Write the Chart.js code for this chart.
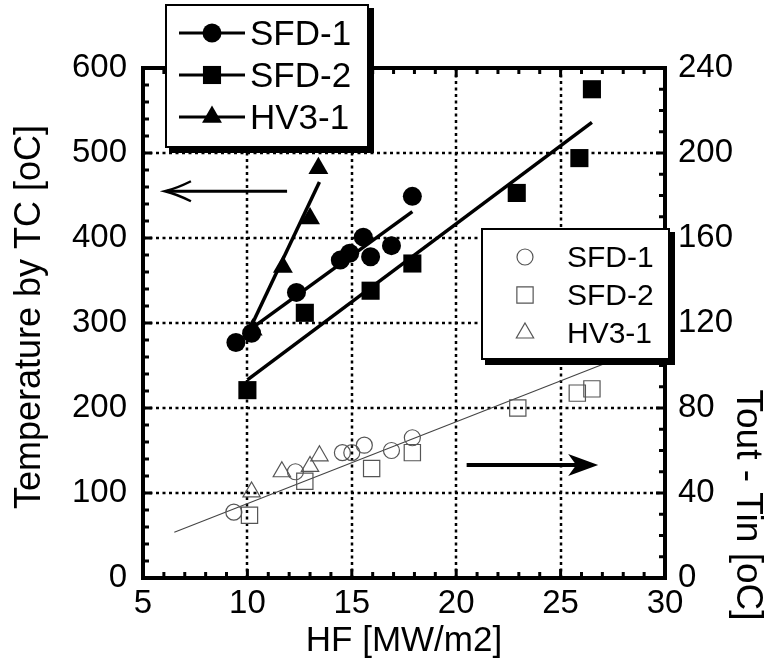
<!DOCTYPE html>
<html>
<head>
<meta charset="utf-8">
<script src="https://cdn.jsdelivr.net/npm/chart.js@4/dist/chart.umd.min.js"></script>
<style>
  html, body { margin: 0; padding: 0; background: #ffffff; }
  #wrap { width: 765px; height: 663px; }
</style>
</head>
<body>
<div id="wrap"><canvas id="c" width="765" height="663"></canvas></div>
<script>
// ---------- DATA ----------
// Left axis: Temperature by TC [oC]  (filled markers)
const hfSFD1 = [9.45, 10.2, 12.35, 14.45, 14.9, 15.55, 15.9, 16.9, 17.9];
const tcSFD1 = [277, 288, 336, 374, 382, 401, 378, 391, 449];
const hfSFD2 = [10.0, 12.75, 15.9, 17.9, 22.9, 25.9, 26.5];
const tcSFD2 = [221, 312, 338, 370, 453, 494, 575];
const hfHV31 = [10.25, 11.7, 13.0, 13.4];
const tcHV31 = [292, 366, 423, 482];

// Fitted lines (left axis): start / end points
const fitSFD1HF = [10.1, 17.9];
const fitSFD1TC = [292, 431];
const fitSFD2HF = [10.0, 26.5];
const fitSFD2TC = [233, 536];
const fitHV31HF = [10.1, 13.45];
const fitHV31TC = [292, 466];

// Right axis: Tout - Tin [oC]  (open markers)
const hfSFD1o = [9.35, 12.3, 14.55, 15.0, 15.6, 16.9, 17.9];
const dtSFD1o = [31, 50, 59, 59, 62.5, 60, 66];
const hfSFD2o = [10.1, 12.75, 15.95, 17.9, 22.95, 25.8, 26.5];
const dtSFD2o = [29.5, 45.5, 51.5, 59, 80, 87, 89];
const hfHV31o = [10.2, 11.65, 13.0, 13.45];
const dtHV31o = [40.5, 50, 52.5, 57.5];

// Fitted line (right axis)
const fitAllHF = [6.5, 27.0];
const fitAllDT = [21.5, 100.5];

// Tick labels
const xTicks = [5, 10, 15, 20, 25, 30];
const leftTicks = [0, 100, 200, 300, 400, 500, 600];
const rightTicks = [0, 40, 80, 120, 160, 200, 240];

// Legend labels
const seriesNames = ['SFD-1', 'SFD-2', 'HV3-1'];

// Axis titles
const xTitle = 'HF [MW/m2]';
const yTitle = 'Temperature by TC [oC]';
const y2Title = 'Tout - Tin [oC]';

// Direction arrows (data units)
const leftArrowHF = [11.9, 6.05];   // from -> to (points left)
const leftArrowTC = 455;
const rightArrowHF = [20.5, 26.8];  // from -> to (points right)
const rightArrowDT = 53.2;

// ---------- helpers ----------
const pts = (xs, ys) => xs.map((x, i) => ({ x: x, y: ys[i] }));
const FONT = '"Liberation Sans", Arial, Helvetica, sans-serif';

const filledStyles = ['circle', 'rect', 'triangle'];
const filledRadius = [9.5, 12.8, 11.5];
const openRadius = [8, 11.5, 10];

const datasets = [
  { label: 'SFD-1', data: pts(hfSFD1, tcSFD1), yAxisID: 'y', pointStyle: 'circle', pointRadius: filledRadius[0],
    backgroundColor: '#000', borderColor: '#000', borderWidth: 0, showLine: false },
  { label: 'SFD-2', data: pts(hfSFD2, tcSFD2), yAxisID: 'y', pointStyle: 'rect', pointRadius: filledRadius[1],
    backgroundColor: '#000', borderColor: '#000', borderWidth: 0, showLine: false },
  { label: 'HV3-1', data: pts(hfHV31, tcHV31), yAxisID: 'y', pointStyle: 'triangle', pointRadius: filledRadius[2],
    backgroundColor: '#000', borderColor: '#000', borderWidth: 0, showLine: false },
  { label: 'fit SFD-1', data: pts(fitSFD1HF, fitSFD1TC), yAxisID: 'y', showLine: true, pointRadius: 0,
    borderColor: '#000', borderWidth: 3.5 },
  { label: 'fit SFD-2', data: pts(fitSFD2HF, fitSFD2TC), yAxisID: 'y', showLine: true, pointRadius: 0,
    borderColor: '#000', borderWidth: 3.5 },
  { label: 'fit HV3-1', data: pts(fitHV31HF, fitHV31TC), yAxisID: 'y', showLine: true, pointRadius: 0,
    borderColor: '#000', borderWidth: 3.5 },
  { label: 'SFD-1 dT', data: pts(hfSFD1o, dtSFD1o), yAxisID: 'y2', pointStyle: 'circle', pointRadius: openRadius[0],
    backgroundColor: 'rgba(0,0,0,0)', borderColor: '#555', borderWidth: 1.2, showLine: false },
  { label: 'SFD-2 dT', data: pts(hfSFD2o, dtSFD2o), yAxisID: 'y2', pointStyle: 'rect', pointRadius: openRadius[1],
    backgroundColor: 'rgba(0,0,0,0)', borderColor: '#555', borderWidth: 1.2, showLine: false },
  { label: 'HV3-1 dT', data: pts(hfHV31o, dtHV31o), yAxisID: 'y2', pointStyle: 'triangle', pointRadius: openRadius[2],
    backgroundColor: 'rgba(0,0,0,0)', borderColor: '#555', borderWidth: 1.2, showLine: false },
  { label: 'fit dT', data: pts(fitAllHF, fitAllDT), yAxisID: 'y2', showLine: true, pointRadius: 0,
    borderColor: '#444', borderWidth: 1.1 }
];

// ---------- decoration plugin ----------
const deco = {
  id: 'deco',
  beforeDatasetsDraw(chart) {
    const { ctx, chartArea: a, scales } = chart;
    ctx.save();
    ctx.strokeStyle = '#000';
    ctx.lineWidth = 2.5;
    ctx.setLineDash([3, 3.5]);
    xTicks.slice(1, -1).forEach(v => {
      const px = Math.round(scales.x.getPixelForValue(v));
      ctx.beginPath(); ctx.moveTo(px, a.top); ctx.lineTo(px, a.bottom); ctx.stroke();
    });
    leftTicks.slice(1, -1).forEach(v => {
      const py = Math.round(scales.y.getPixelForValue(v));
      ctx.beginPath(); ctx.moveTo(a.left, py); ctx.lineTo(a.right, py); ctx.stroke();
    });
    ctx.restore();
  },
  afterDatasetsDraw(chart) {
    const { ctx, chartArea: a, scales } = chart;
    const sx = scales.x, sy = scales.y, sy2 = scales.y2;
    ctx.save();
    ctx.setLineDash([]);
    ctx.strokeStyle = '#000';
    ctx.fillStyle = '#000';

    // inward tick marks
    ctx.lineWidth = 3;
    for (let v = 5; v <= 30; v += 1) {
      const px = sx.getPixelForValue(v);
      const len = (v % 5 === 0) ? 9 : 6;
      ctx.beginPath(); ctx.moveTo(px, a.bottom); ctx.lineTo(px, a.bottom - len); ctx.stroke();
      ctx.beginPath(); ctx.moveTo(px, a.top); ctx.lineTo(px, a.top + len); ctx.stroke();
    }
    for (let v = 0; v <= 600; v += 20) {
      const py = sy.getPixelForValue(v);
      const len = (v % 100 === 0) ? 9 : 6;
      ctx.beginPath(); ctx.moveTo(a.left, py); ctx.lineTo(a.left + len, py); ctx.stroke();
    }
    for (let v = 0; v <= 240; v += 10) {
      const py = sy2.getPixelForValue(v);
      const len = (v % 40 === 0) ? 9 : 6;
      ctx.beginPath(); ctx.moveTo(a.right, py); ctx.lineTo(a.right - len, py); ctx.stroke();
    }

    // frame
    ctx.lineWidth = 4;
    ctx.strokeRect(a.left, a.top, a.right - a.left, a.bottom - a.top);

    // arrows
    {
      const x1 = sx.getPixelForValue(leftArrowHF[0]);
      const x2 = sx.getPixelForValue(leftArrowHF[1]);
      const py = sy.getPixelForValue(leftArrowTC);
      ctx.lineWidth = 3;
      ctx.beginPath(); ctx.moveTo(x1, py); ctx.lineTo(x2 + 2, py); ctx.stroke();
      ctx.lineWidth = 2.5;
      ctx.beginPath();
      ctx.moveTo(x2 + 26, py - 10);
      ctx.quadraticCurveTo(x2 + 12, py - 3, x2, py);
      ctx.quadraticCurveTo(x2 + 12, py + 3, x2 + 26, py + 10);
      ctx.stroke();
    }
    {
      const x1 = sx.getPixelForValue(rightArrowHF[0]);
      const x2 = sx.getPixelForValue(rightArrowHF[1]);
      const py = sy2.getPixelForValue(rightArrowDT);
      ctx.lineWidth = 4;
      ctx.beginPath(); ctx.moveTo(x1, py); ctx.lineTo(x2 - 10, py); ctx.stroke();
      ctx.beginPath();
      ctx.moveTo(x2, py);
      ctx.lineTo(x2 - 30, py - 11);
      ctx.lineTo(x2 - 22, py);
      ctx.lineTo(x2 - 30, py + 11);
      ctx.closePath();
      ctx.fill();
    }

    // legend boxes
    const box = (l, t, r, b) => {
      ctx.fillStyle = '#000';
      ctx.fillRect(l + 3, t + 3, r - l + 3, b - t + 3);
      ctx.fillStyle = '#fff';
      ctx.fillRect(l, t, r - l, b - t);
      ctx.lineWidth = 2;
      ctx.strokeStyle = '#000';
      ctx.strokeRect(l, t, r - l, b - t);
    };
    const drawPoint = Chart.helpers.drawPoint;

    // top-left legend (filled markers)
    box(166, 5, 368, 147);
    ctx.font = '35px ' + FONT;
    ctx.textBaseline = 'middle';
    ctx.textAlign = 'left';
    const rowsA = [33, 75, 117];
    seriesNames.forEach((n, i) => {
      const y = rowsA[i];
      ctx.strokeStyle = '#000'; ctx.lineWidth = 3;
      ctx.beginPath(); ctx.moveTo(179, y); ctx.lineTo(245, y); ctx.stroke();
      ctx.fillStyle = '#000';
      drawPoint(ctx, { pointStyle: filledStyles[i], radius: filledRadius[i], borderWidth: 0 }, 212, y);
      ctx.fillStyle = '#000';
      ctx.fillText(n, 250, y + 2);
    });

    // right legend (open markers)
    box(482, 229, 669, 359);
    ctx.font = '30px ' + FONT;
    const rowsB = [257, 295, 333];
    seriesNames.forEach((n, i) => {
      const y = rowsB[i];
      ctx.strokeStyle = '#555'; ctx.lineWidth = 1.2;
      ctx.fillStyle = 'rgba(0,0,0,0)';
      drawPoint(ctx, { pointStyle: filledStyles[i], radius: openRadius[i], borderWidth: 1.2 }, 525, y);
      ctx.fillStyle = '#000';
      ctx.fillText(n, 567, y + 2);
    });

    // axis titles
    ctx.fillStyle = '#000';
    ctx.textAlign = 'center';
    ctx.textBaseline = 'middle';
    ctx.font = '35px ' + FONT;
    ctx.fillText(xTitle, (a.left + a.right) / 2, 641);
    ctx.save();
    ctx.font = '36px ' + FONT;
    ctx.translate(30, 317);
    ctx.rotate(-Math.PI / 2);
    ctx.fillText(yTitle, 0, 0);
    ctx.restore();
    ctx.save();
    ctx.font = '37px ' + FONT;
    ctx.translate(747, 505);
    ctx.rotate(Math.PI / 2);
    ctx.fillText(y2Title, 0, 0);
    ctx.restore();

    ctx.restore();
  }
};

const tickFont = { family: FONT, size: 33 };

new Chart(document.getElementById('c'), {
  type: 'scatter',
  data: { datasets: datasets },
  options: {
    responsive: false,
    animation: false,
    devicePixelRatio: 1,
    layout: { padding: { top: 68, left: 0, right: 0, bottom: 0 } },
    plugins: { legend: { display: false }, tooltip: { enabled: false } },
    scales: {
      x: {
        type: 'linear', position: 'bottom', min: 5, max: 30,
        afterBuildTicks: s => { s.ticks = xTicks.map(v => ({ value: v })); },
        ticks: { font: tickFont, color: '#000', padding: 6, maxRotation: 0, autoSkip: false },
        grid: { display: false, drawTicks: false },
        border: { display: false },
        afterFit: s => { s.height = 85; }
      },
      y: {
        type: 'linear', position: 'left', min: 0, max: 600,
        afterBuildTicks: s => { s.ticks = leftTicks.map(v => ({ value: v })); },
        ticks: { font: tickFont, color: '#000', padding: 16, autoSkip: false },
        grid: { display: false, drawTicks: false },
        border: { display: false },
        afterFit: s => { s.width = 143; }
      },
      y2: {
        type: 'linear', position: 'right', min: 0, max: 240,
        afterBuildTicks: s => { s.ticks = rightTicks.map(v => ({ value: v })); },
        ticks: { font: tickFont, color: '#000', padding: 13, autoSkip: false },
        grid: { display: false, drawTicks: false },
        border: { display: false },
        afterFit: s => { s.width = 100; }
      }
    }
  },
  plugins: [deco]
});
</script>
</body>
</html>
